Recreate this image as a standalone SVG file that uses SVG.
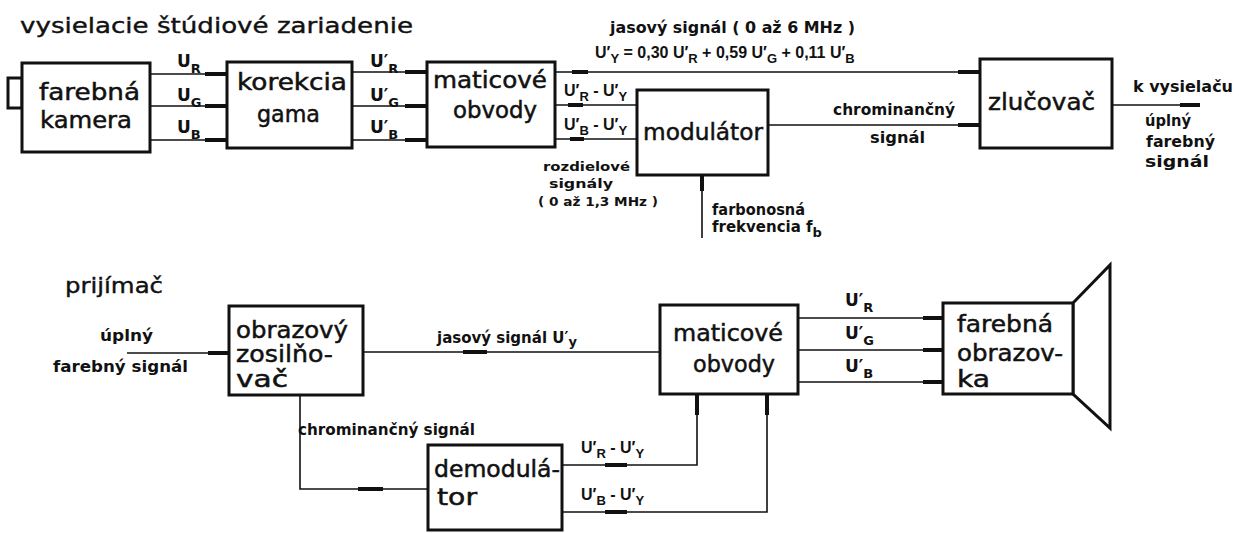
<svg xmlns="http://www.w3.org/2000/svg" width="1239" height="533" viewBox="0 0 1239 533">
<style>
text{font-family:"DejaVu Sans","Liberation Sans",sans-serif;fill:#111}
.big{font-size:23px;stroke:#111;stroke-width:0.5}
.ttl{font-size:22px;stroke:#111;stroke-width:0.4}
.sm{font-size:15px;font-weight:bold}
.xs{font-size:13px;font-weight:bold}
.lab{font-size:17px;font-weight:bold}
.eq{font-family:"Liberation Sans",Arial,sans-serif;font-size:16px;font-weight:bold}
.sub{font-size:13px}
.box{fill:#fff;stroke:#111;stroke-width:3}
.ln{fill:none;stroke:#111;stroke-width:1.6}
.ah{stroke:#111;stroke-width:4;fill:none}
</style>
<rect width="1239" height="533" fill="#fff"/>
<text class="ttl" x="20" y="33" textLength="393" lengthAdjust="spacingAndGlyphs">vysielacie štúdiové zariadenie</text>
<text class="ttl" x="65" y="293" textLength="98" lengthAdjust="spacingAndGlyphs">prijímač</text>
<g id="connectors">
<path class="ln" d="M150 74H227M150 106H227M150 140H227"/>
<path class="ah" d="M205 74H227M205 106H227M205 140H227"/>
<path class="ln" d="M352 72H427M352 106H427M352 140H427"/>
<path class="ah" d="M405 72H427M405 106H427M405 140H427"/>
<path class="ln" d="M555 72H980M555 105H637M555 139H637M768 125H980M1112 105H1200M702 175V238"/>
<path class="ah" d="M572 72H588M958 72H980M568 105H583M570 139H584M958 125H980M1180 105H1200M702 175V191"/>
<path class="ln" d="M127 353H229M363 352H660M300 395V489H428M562 465H697V394M562 512H767V394M798 318H943M798 350H943M798 382H943"/>
<path class="ah" d="M208 353H229M463 352H487M358 489H383M605 465H627M605 512H627M697 395V415M767 395V415M923 318H943M923 350H943M923 382H943"/>
</g>
<g id="camera">
<rect class="box" x="8" y="78" width="14" height="30"/>
<rect class="box" x="22" y="63" width="128" height="89"/>
<text class="big" x="39" y="100" textLength="101" lengthAdjust="spacingAndGlyphs">farebná</text>
<text class="big" x="40" y="128" textLength="92" lengthAdjust="spacingAndGlyphs">kamera</text>
</g>
<g id="korekcia">
<rect class="box" x="227" y="62" width="125" height="86"/>
<text class="big" x="237" y="90" textLength="110" lengthAdjust="spacingAndGlyphs">korekcia</text>
<text class="big" x="257" y="122" textLength="63" lengthAdjust="spacingAndGlyphs">gama</text>
</g>
<g id="matice1">
<rect class="box" x="427" y="62" width="128" height="85"/>
<text class="big" x="433" y="88" textLength="114" lengthAdjust="spacingAndGlyphs">maticové</text>
<text class="big" x="453" y="118" textLength="84" lengthAdjust="spacingAndGlyphs">obvody</text>
</g>
<g id="modulator">
<rect class="box" x="637" y="90" width="131" height="85"/>
<text class="big" x="643" y="140" textLength="120" lengthAdjust="spacingAndGlyphs">modulátor</text>
</g>
<g id="zlucovac">
<rect class="box" x="980" y="59" width="132" height="89"/>
<text class="big" x="988" y="110" textLength="107" lengthAdjust="spacingAndGlyphs">zlučovač</text>
</g>
<g id="labels-top">
<text class="lab" x="177" y="67">U<tspan class="sub" dy="6">R</tspan></text>
<text class="lab" x="177" y="101">U<tspan class="sub" dy="6">G</tspan></text>
<text class="lab" x="177" y="133">U<tspan class="sub" dy="6">B</tspan></text>
<text class="lab" x="370" y="67">U′<tspan class="sub" dy="6">R</tspan></text>
<text class="lab" x="370" y="101">U′<tspan class="sub" dy="6">G</tspan></text>
<text class="lab" x="370" y="133">U′<tspan class="sub" dy="6">B</tspan></text>
<text class="sm" x="610" y="33" textLength="245" lengthAdjust="spacingAndGlyphs">jasový signál ( 0 až 6 MHz )</text>
<text class="eq" x="595" y="58">U′<tspan class="sub" dy="5">Y</tspan><tspan dy="-5"> = 0,30 U′</tspan><tspan class="sub" dy="5">R</tspan><tspan dy="-5"> + 0,59 U′</tspan><tspan class="sub" dy="5">G</tspan><tspan dy="-5"> + 0,11 U′</tspan><tspan class="sub" dy="5">B</tspan></text>
<text class="eq" x="564" y="96">U′<tspan class="sub" dy="5">R</tspan><tspan dy="-5"> - U′</tspan><tspan class="sub" dy="5">Y</tspan></text>
<text class="eq" x="564" y="130">U′<tspan class="sub" dy="5">B</tspan><tspan dy="-5"> - U′</tspan><tspan class="sub" dy="5">Y</tspan></text>
<text class="xs" x="543" y="171" textLength="87" lengthAdjust="spacingAndGlyphs">rozdielové</text>
<text class="xs" x="549" y="188" textLength="64" lengthAdjust="spacingAndGlyphs">signály</text>
<text class="xs" x="538" y="206" textLength="120" lengthAdjust="spacingAndGlyphs">( 0 až 1,3 MHz )</text>
<text class="sm" x="712" y="215" textLength="93" lengthAdjust="spacingAndGlyphs">farbonosná</text>
<text class="sm" x="712" y="232">frekvencia f<tspan class="sub" dy="5">b</tspan></text>
<text class="sm" x="833" y="115" textLength="122" lengthAdjust="spacingAndGlyphs">chrominančný</text>
<text class="sm" x="870" y="143" textLength="55" lengthAdjust="spacingAndGlyphs">signál</text>
<text class="sm" x="1133" y="92" textLength="100" lengthAdjust="spacingAndGlyphs">k vysielaču</text>
<text class="sm" x="1145" y="126" textLength="46" lengthAdjust="spacingAndGlyphs">úplný</text>
<text class="sm" x="1146" y="147" textLength="69" lengthAdjust="spacingAndGlyphs">farebný</text>
<text class="sm" x="1145" y="167" textLength="64" lengthAdjust="spacingAndGlyphs">signál</text>
</g>
<g id="obrazovy">
<rect class="box" x="229" y="306" width="134" height="89"/>
<text class="big" x="236" y="338" textLength="112" lengthAdjust="spacingAndGlyphs">obrazový</text>
<text class="big" x="236" y="362" textLength="97" lengthAdjust="spacingAndGlyphs">zosilňo-</text>
<text class="big" x="236" y="387" textLength="52" lengthAdjust="spacingAndGlyphs">vač</text>
</g>
<g id="matice2">
<rect class="box" x="660" y="305" width="138" height="89"/>
<text class="big" x="673" y="341" textLength="110" lengthAdjust="spacingAndGlyphs">maticové</text>
<text class="big" x="693" y="372" textLength="82" lengthAdjust="spacingAndGlyphs">obvody</text>
</g>
<g id="obrazovka">
<path class="box" d="M1073 303L1110 265V428L1073 394Z"/>
<rect class="box" x="943" y="303" width="130" height="91"/>
<text class="big" x="957" y="332" textLength="96" lengthAdjust="spacingAndGlyphs">farebná</text>
<text class="big" x="957" y="361" textLength="106" lengthAdjust="spacingAndGlyphs">obrazov-</text>
<text class="big" x="957" y="387" textLength="33" lengthAdjust="spacingAndGlyphs">ka</text>
</g>
<g id="demodulator">
<rect class="box" x="428" y="445" width="134" height="85"/>
<text class="big" x="434" y="477" textLength="126" lengthAdjust="spacingAndGlyphs">demodulá-</text>
<text class="big" x="437" y="505" textLength="40" lengthAdjust="spacingAndGlyphs">tor</text>
</g>
<g id="labels-bottom">
<text class="sm" x="100" y="341" textLength="53" lengthAdjust="spacingAndGlyphs">úplný</text>
<text class="sm" x="53" y="372" textLength="135" lengthAdjust="spacingAndGlyphs">farebný signál</text>
<text class="sm" x="437" y="343">jasový signál U′<tspan class="sub" dy="3">y</tspan></text>
<text class="sm" x="298" y="435" textLength="177" lengthAdjust="spacingAndGlyphs">chrominančný signál</text>
<text class="eq" x="581" y="453">U′<tspan class="sub" dy="5">R</tspan><tspan dy="-5"> - U′</tspan><tspan class="sub" dy="5">Y</tspan></text>
<text class="eq" x="581" y="500">U′<tspan class="sub" dy="5">B</tspan><tspan dy="-5"> - U′</tspan><tspan class="sub" dy="5">Y</tspan></text>
<text class="lab" x="845" y="306">U′<tspan class="sub" dy="6">R</tspan></text>
<text class="lab" x="845" y="339">U′<tspan class="sub" dy="6">G</tspan></text>
<text class="lab" x="845" y="372">U′<tspan class="sub" dy="6">B</tspan></text>
</g>
</svg>
